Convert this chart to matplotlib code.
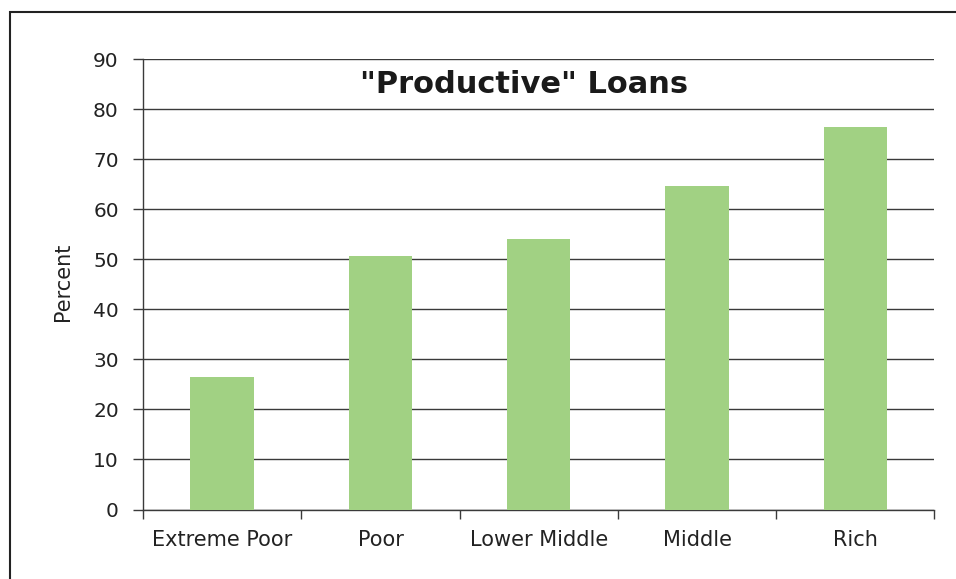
import matplotlib
matplotlib.use("Agg")
import matplotlib.pyplot as plt
from matplotlib.patches import Rectangle
import numpy as np

categories = ["Extreme Poor", "Poor", "Lower Middle", "Middle", "Rich"]
percent = [26.5, 50.7, 54.0, 64.7, 76.4]
y_ticks = [0, 10, 20, 30, 40, 50, 60, 70, 80, 90]

W, H, DPI = 956, 579, 100
fig = plt.figure(figsize=(W / DPI, H / DPI), dpi=DPI)
plt.rcParams["font.family"] = ["DejaVu Sans"]

# outer frame of the chart area (runs off the right and bottom edges)
fig.patches.append(Rectangle((10 / W, 0 - 0.01), 1.0, 1 - 12 / H + 0.01,
                             transform=fig.transFigure, fill=False,
                             edgecolor="#222222", linewidth=1.5))

left, right, top, bottom = 143, 934.5, 59.3, 509.5
ax = fig.add_axes([left / W, 1 - bottom / H, (right - left) / W, (bottom - top) / H])

x = np.arange(len(categories))
ax.bar(x, percent, width=0.40, color="#A1D183", zorder=3)

ax.set_xlim(-0.5, len(categories) - 0.5)
ax.set_ylim(0, 90)
ax.set_yticks(y_ticks)
ax.yaxis.grid(True, color="#3a3a3a", linewidth=1.0, zorder=0)
ax.set_axisbelow(True)

ax.set_xticks(np.arange(len(categories) + 1) - 0.5)
ax.set_xticklabels([])
ax.set_xticks(x, minor=True)
ax.set_xticklabels(categories, minor=True)
ax.tick_params(axis="x", which="major", direction="out", length=6.7, width=1.0, color="#3a3a3a")
ax.tick_params(axis="x", which="minor", length=0, pad=15, labelsize=15, labelcolor="#222222")
ax.tick_params(axis="y", direction="out", length=7.4, width=1.0, color="#3a3a3a",
               labelsize=14.5, labelcolor="#222222", pad=10)

for side in ["top", "right"]:
    ax.spines[side].set_visible(False)
for side in ["left", "bottom"]:
    ax.spines[side].set_color("#3a3a3a")
    ax.spines[side].set_linewidth(1.0)

ax.set_ylabel("Percent", fontsize=15, color="#222222")
ax.yaxis.set_label_coords(-0.0884, 0.505)
ax.text(0.4814, 0.925, '"Productive" Loans', transform=ax.transAxes, ha="center", va="baseline",
        fontsize=22, fontweight="bold", color="#1a1a1a")

fig.savefig("out.png", dpi=DPI)
